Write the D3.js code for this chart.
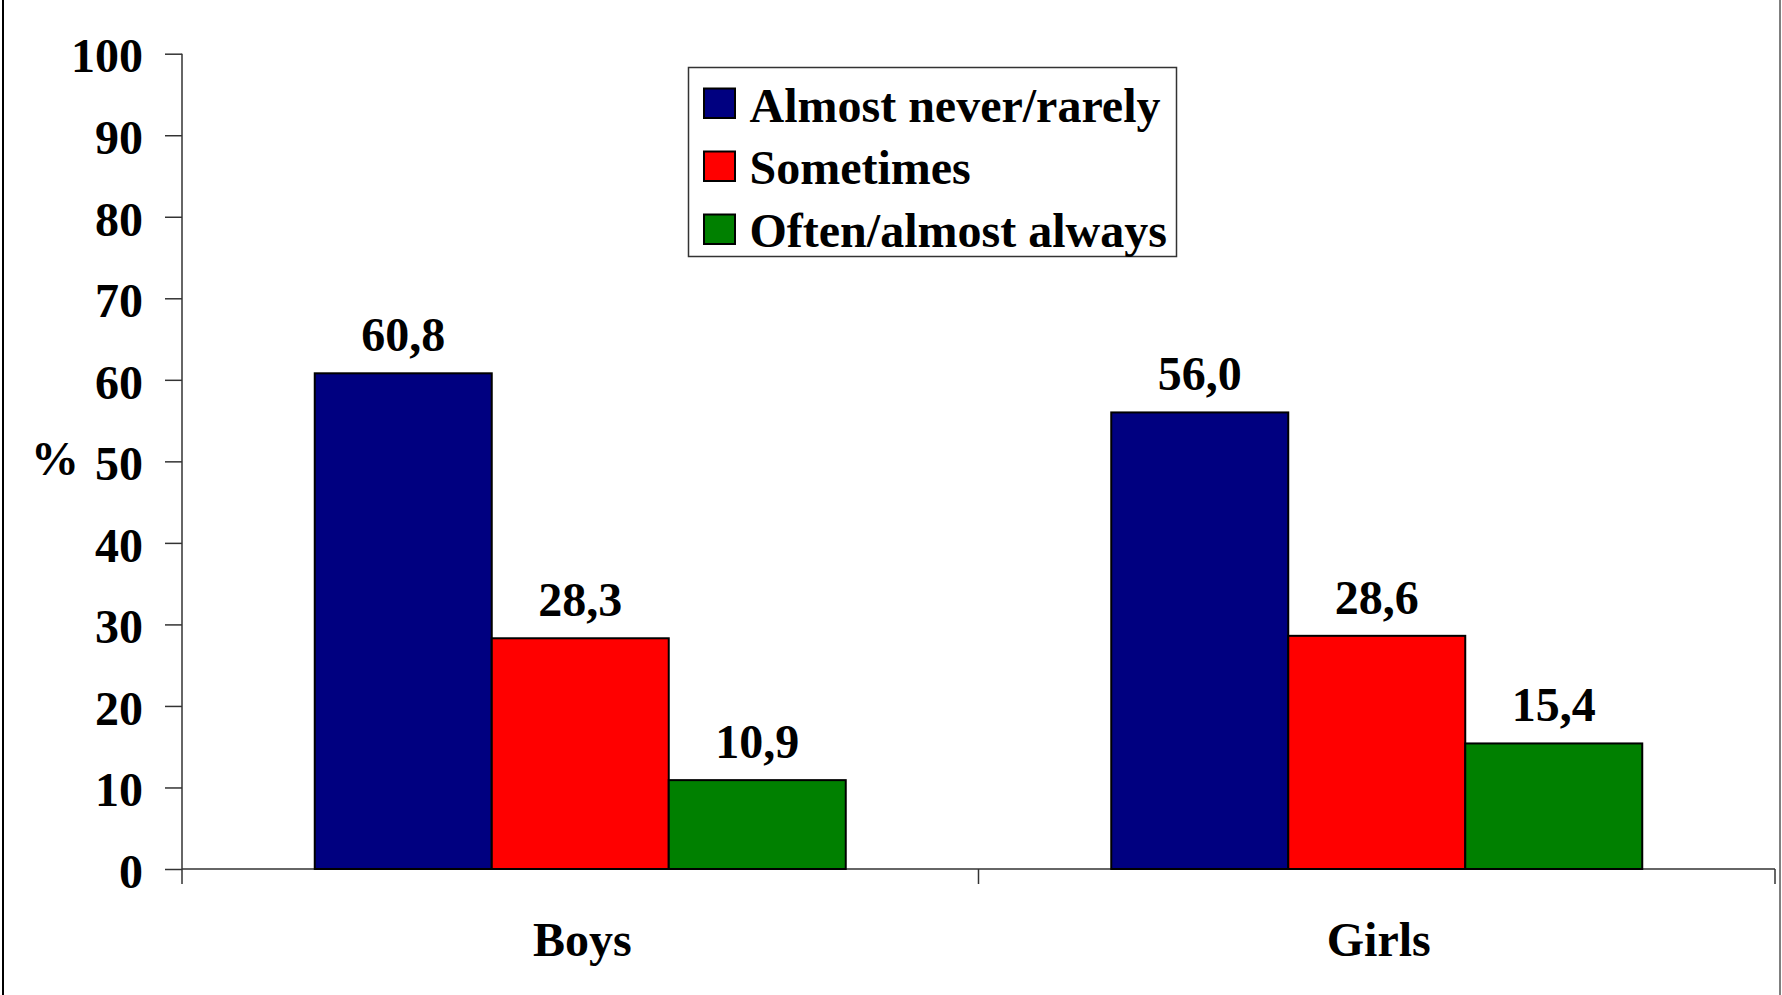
<!DOCTYPE html>
<html>
<head>
<meta charset="utf-8">
<script src="https://cdn.jsdelivr.net/npm/d3@7"></script>
<style>
  html, body { margin: 0; padding: 0; background: #fff; }
  svg { display: block; }
  text { font-family: "Liberation Serif", "Times New Roman", serif; font-weight: bold; fill: #000; }
</style>
</head>
<body>
<svg id="chart" width="1782" height="995"></svg>
<script>
const categories = ["Boys", "Girls"];
const seriesNames = ["Almost never/rarely", "Sometimes", "Often/almost always"];
const seriesColors = ["#000080", "#FF0000", "#008000"];
const valuesBoys = [60.8, 28.3, 10.9];
const valuesGirls = [56.0, 28.6, 15.4];
const valueLabelsBoys = ["60,8", "28,3", "10,9"];
const valueLabelsGirls = ["56,0", "28,6", "15,4"];
const yTicks = [0, 10, 20, 30, 40, 50, 60, 70, 80, 90, 100];

(function () {
const allValues = [valuesBoys, valuesGirls];
const allLabels = [valueLabelsBoys, valueLabelsGirls];

const svg = d3.select("#chart");
const W = 1782, H = 995;
const pLeft = 182, pRight = 1775, pTop = 53.7, pBottom = 869;
const FS = 48;

// outer border
svg.append("line").attr("x1", 3).attr("x2", 3).attr("y1", 0).attr("y2", H)
  .attr("stroke", "#000").attr("stroke-width", 2);
svg.append("line").attr("x1", 1780).attr("x2", 1780).attr("y1", 0).attr("y2", H)
  .attr("stroke", "#555").attr("stroke-width", 1.5);

const x0 = d3.scaleBand().domain(categories).range([pLeft, pRight]).paddingInner(0).paddingOuter(0);
const x1 = d3.scaleBand().domain(seriesNames).range([0, x0.bandwidth()]).paddingInner(0).paddingOuter(0.75);
const y = d3.scaleLinear().domain([0, 100]).range([pBottom, pTop]);

// y axis
const yAxis = d3.axisLeft(y).tickValues(yTicks).tickSize(17).tickPadding(22).tickFormat(d3.format("d"));
const gy = svg.append("g").attr("transform", `translate(${pLeft},0)`).call(yAxis);
gy.select(".domain").remove();
gy.selectAll(".tick line").attr("stroke", "#333").attr("stroke-width", 1.5);
gy.selectAll(".tick text").attr("font-size", FS).attr("font-family", "Liberation Serif, serif")
  .attr("font-weight", "bold").attr("fill", "#000").attr("dy", "0.38em");
svg.append("line").attr("x1", pLeft).attr("x2", pLeft).attr("y1", y(100)).attr("y2", pBottom)
  .attr("stroke", "#333").attr("stroke-width", 1.5);

// x axis
svg.append("line").attr("x1", pLeft).attr("x2", pRight).attr("y1", pBottom).attr("y2", pBottom)
  .attr("stroke", "#333").attr("stroke-width", 1.5);
const boundaries = categories.map(c => x0(c)).concat([x0(categories[categories.length - 1]) + x0.bandwidth()]);
svg.selectAll("line.xtick").data(boundaries).enter().append("line")
  .attr("class", "xtick")
  .attr("x1", d => d).attr("x2", d => d).attr("y1", pBottom).attr("y2", pBottom + 15)
  .attr("stroke", "#333").attr("stroke-width", 1.5);
svg.selectAll("text.cat").data(categories).enter().append("text")
  .attr("class", "cat")
  .attr("x", d => x0(d) + x0.bandwidth() / 2 + 2)
  .attr("y", 956)
  .attr("text-anchor", "middle")
  .attr("font-size", FS)
  .text(d => d);

// y title
svg.append("text").attr("x", 55).attr("y", 475).attr("text-anchor", "middle")
  .attr("font-size", FS).text("%");

// bars
categories.forEach((cat, ci) => {
  const g = svg.append("g").attr("transform", `translate(${x0(cat)},0)`);
  const data = seriesNames.map((s, si) => ({ s, v: allValues[ci][si], lab: allLabels[ci][si], c: seriesColors[si] }));
  g.selectAll("rect").data(data).enter().append("rect")
    .attr("x", d => x1(d.s))
    .attr("y", d => y(d.v))
    .attr("width", x1.bandwidth())
    .attr("height", d => y(0) - y(d.v))
    .attr("fill", d => d.c)
    .attr("stroke", "#000")
    .attr("stroke-width", 2);
  g.selectAll("text").data(data).enter().append("text")
    .attr("x", d => x1(d.s) + x1.bandwidth() / 2)
    .attr("y", d => y(d.v) - 22)
    .attr("text-anchor", "middle")
    .attr("font-size", FS)
    .text(d => d.lab);
});

// legend
const lg = svg.append("g");
lg.append("rect").attr("x", 688.5).attr("y", 67.5).attr("width", 488).attr("height", 189)
  .attr("fill", "#fff").attr("stroke", "#333").attr("stroke-width", 1.5);
seriesNames.forEach((s, i) => {
  const yy = 88.5 + i * 63;
  lg.append("rect").attr("x", 704).attr("y", yy).attr("width", 31).attr("height", 29.5)
    .attr("fill", seriesColors[i]).attr("stroke", "#000").attr("stroke-width", 2);
  lg.append("text").attr("x", 749.5).attr("y", 121.5 + i * 62.5).attr("font-size", FS).text(s);
});
})();
</script>
</body>
</html>
